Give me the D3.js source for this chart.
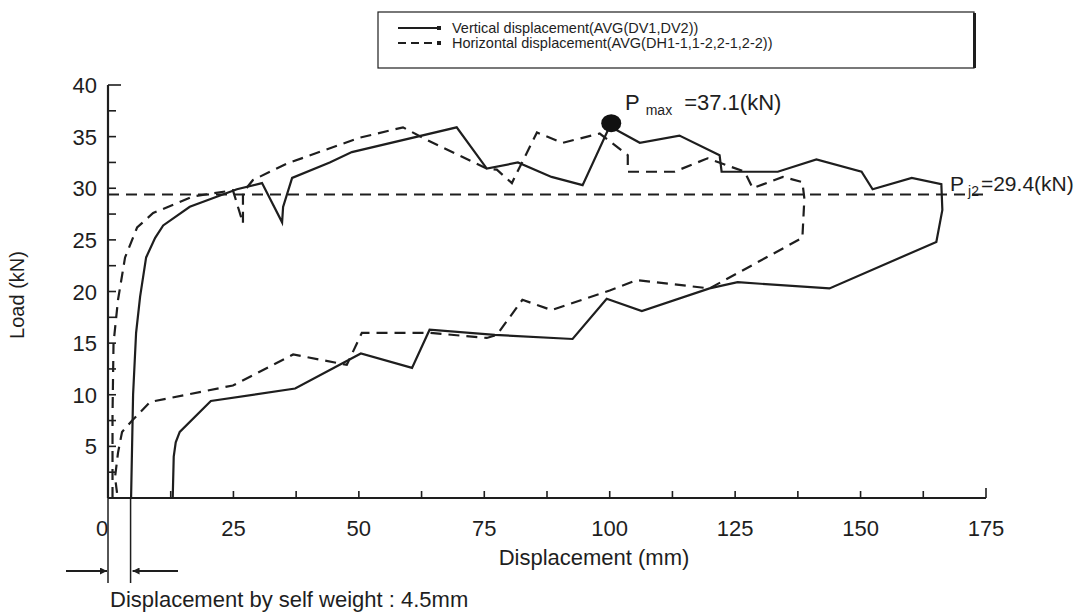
<!DOCTYPE html>
<html>
<head>
<meta charset="utf-8">
<script src="https://cdn.jsdelivr.net/npm/d3@7"></script>
<style>
  html, body { margin: 0; padding: 0; background: #fff; }
  svg { display: block; font-family: "Liberation Sans", Arial, sans-serif; }
</style>
</head>
<body>
<svg id="chart" width="1089" height="616"></svg>
<script>
// ---- data (displacement mm, load kN) ----
const verticalDisp = [
  [4.6,0],[5.0,10],[5.6,16],[6.4,19.5],[7.6,23.3],[9.4,25.2],[11.0,26.4],[16.3,28.2],
  [25.7,29.9],[30.7,30.5],[34.7,26.7],[34.9,28.2],[36.7,31.0],[44.2,32.5],[48.6,33.5],
  [69.5,35.9],[75.5,31.9],[81.7,32.5],[88.4,31.1],[94.6,30.3],[100.0,36.0],[106.0,34.4],
  [113.9,35.1],[121.9,33.2],[122.3,31.6],[133.5,31.6],[141.2,32.8],[150.2,31.6],
  [152.4,29.9],[160.2,31.0],[166.1,30.4],[166.3,27.9],[165.1,24.8],[143.8,20.3],
  [125.5,20.9],[119.9,20.3],[106.4,18.1],[99.4,19.3],[92.6,15.4],[77.1,15.8],
  [64.1,16.3],[60.6,12.6],[50.4,14.0],[37.3,10.6],[20.5,9.4],[14.3,6.4],[13.5,5.4],
  [13.1,4.0],[12.9,0]
];
const horizontalDisp = [
  [0.9,0],[0.9,8],[1.1,15],[2.0,19.2],[3.4,23.3],[5.8,26.2],[9.0,27.6],[16.9,29.2],
  [24.9,29.8],[26.9,26.6],[26.9,29.6],[28.9,30.8],[35.7,32.4],[50.2,34.9],[58.8,35.9],
  [63.5,34.7],[75.5,31.9],[77.5,31.8],[80.5,30.5],[81.5,31.5],[85.5,35.4],[90.6,34.4],
  [98.0,35.3],[103.6,33.2],[103.6,31.6],[112.9,31.6],[119.5,32.9],[126.9,31.6],
  [128.5,30.0],[134.5,31.1],[138.4,30.6],[138.8,29.0],[138.4,25.2],[119.9,20.3],
  [105.4,21.1],[100.0,20.1],[88.4,18.2],[82.6,19.2],[77.5,15.8],[75.5,15.5],[64.1,16.0],
  [50.6,16.0],[47.6,12.9],[36.9,13.9],[24.9,10.9],[8.4,9.3],[5.0,7.6],[2.8,6.4],
  [2.0,4.4],[1.4,2.0],[1.8,0.5]
];
const xTicks = [0,25,50,75,100,125,150,175];
const yTicks = [5,10,15,20,25,30,35,40];
const pmax = {x: 100.3, y: 36.3, label: "37.1(kN)"};
const pj2 = {y: 29.4, label: "29.4(kN)"};
const selfWeight = 4.5;
const legendLabels = ["Vertical displacement(AVG(DV1,DV2))", "Horizontal displacement(AVG(DH1-1,1-2,2-1,2-2))"];

// ---- drawing ----
const svg = d3.select("#chart");
const ink = "#1e1e1e";
const x = d3.scaleLinear().domain([0,175]).range([108, 986]);
const y = d3.scaleLinear().domain([0,40]).range([498, 85]);
const dash = "11,7";

// axes lines
svg.append("line").attr("x1", x(0)).attr("x2", x(175)).attr("y1", y(0)).attr("y2", y(0))
  .attr("stroke", ink).attr("stroke-width", 2.2);
svg.append("line").attr("x1", x(0)).attr("x2", x(0)).attr("y1", y(0)).attr("y2", y(40))
  .attr("stroke", ink).attr("stroke-width", 2.2);

// x ticks (every 12.5, pointing up)
const xt = d3.range(0, 176, 12.5).filter(v => v > 0);
svg.selectAll(".xt").data(xt).enter().append("line")
  .attr("x1", d => x(d)).attr("x2", d => x(d))
  .attr("y1", y(0)).attr("y2", d => y(0) - (d === 175 ? 10 : 7))
  .attr("stroke", ink).attr("stroke-width", 1.6);
// y ticks (every 2.5, pointing right)
const yt = d3.range(2.5, 40.1, 2.5);
svg.selectAll(".yt").data(yt).enter().append("line")
  .attr("x1", x(0)).attr("x2", d => x(0) + (d === 40 ? 13 : 8))
  .attr("y1", d => y(d)).attr("y2", d => y(d))
  .attr("stroke", ink).attr("stroke-width", 1.6);

// tick labels
svg.selectAll(".xl").data(xTicks).enter().append("text")
  .attr("x", d => x(d) - (d === 0 ? 6 : 0)).attr("y", 536)
  .attr("text-anchor", "middle").attr("font-size", 22).attr("fill", ink)
  .text(d => d);
svg.selectAll(".yl").data(yTicks).enter().append("text")
  .attr("x", 97).attr("y", d => y(d) + 8)
  .attr("text-anchor", "end").attr("font-size", 22).attr("fill", ink)
  .text(d => d);

// axis titles
svg.append("text").attr("x", 594).attr("y", 565).attr("text-anchor", "middle")
  .attr("font-size", 22).attr("fill", ink).text("Displacement (mm)");
svg.append("text").attr("transform", "translate(24,295) rotate(-90)")
  .attr("text-anchor", "middle").attr("font-size", 20).attr("fill", ink).text("Load (kN)");

// Pj2 horizontal dashed line
svg.append("line").attr("x1", x(0)).attr("x2", x(175)).attr("y1", y(pj2.y)).attr("y2", y(pj2.y))
  .attr("stroke", ink).attr("stroke-width", 2).attr("stroke-dasharray", dash);

// curves
const line = d3.line().x(d => x(d[0])).y(d => y(d[1]));
svg.append("path").datum(verticalDisp).attr("d", line)
  .attr("fill", "none").attr("stroke", ink).attr("stroke-width", 2.2).attr("stroke-linejoin", "miter");
svg.append("path").datum(horizontalDisp).attr("d", line)
  .attr("fill", "none").attr("stroke", ink).attr("stroke-width", 2.2).attr("stroke-dasharray", dash);

// Pmax marker
svg.append("ellipse").attr("cx", x(pmax.x)).attr("cy", y(pmax.y)).attr("rx", 10).attr("ry", 9)
  .attr("fill", "#111");

// Pmax label
const pt = svg.append("text").attr("x", 625).attr("y", 110).attr("font-size", 22).attr("fill", ink);
pt.append("tspan").text("P");
pt.append("tspan").attr("font-size", 14).attr("dx", 6).attr("dy", 5).text("max");
pt.append("tspan").attr("dx", 12).attr("dy", -5).text("=" + pmax.label);

// Pj2 label
const pj = svg.append("text").attr("x", 950).attr("y", 191).attr("font-size", 21).attr("fill", ink);
pj.append("tspan").text("P");
pj.append("tspan").attr("font-size", 14).attr("dx", 4).attr("dy", 5).text("j2");
pj.append("tspan").attr("dx", 2).attr("dy", -5).text("=" + pj2.label);

// self weight annotation
[0, selfWeight].forEach(v => {
  svg.append("line").attr("x1", x(v)).attr("x2", x(v)).attr("y1", y(0)).attr("y2", 583)
    .attr("stroke", ink).attr("stroke-width", 1.5);
});
const defs = svg.append("defs");
defs.append("marker").attr("id", "ah").attr("viewBox", "0 0 10 10").attr("refX", 10).attr("refY", 5)
  .attr("markerWidth", 7).attr("markerHeight", 7).attr("orient", "auto-start-reverse")
  .attr("markerUnits", "userSpaceOnUse")
  .append("path").attr("d", "M0,0 L10,5 L0,10 Z").attr("fill", ink);
svg.append("line").attr("x1", 66).attr("x2", x(0) - 1).attr("y1", 571).attr("y2", 571)
  .attr("stroke", ink).attr("stroke-width", 1.8).attr("marker-end", "url(#ah)");
svg.append("line").attr("x1", 178).attr("x2", x(selfWeight) + 2).attr("y1", 571).attr("y2", 571)
  .attr("stroke", ink).attr("stroke-width", 1.8).attr("marker-end", "url(#ah)");
svg.append("text").attr("x", 110).attr("y", 607).attr("font-size", 22).attr("fill", ink)
  .text("Displacement by self weight : " + selfWeight + "mm");

// legend
const lg = svg.append("g");
lg.append("rect").attr("x", 378).attr("y", 12).attr("width", 596).attr("height", 56)
  .attr("fill", "#fff").attr("stroke", ink).attr("stroke-width", 1.2);
lg.append("line").attr("x1", 974.5).attr("x2", 974.5).attr("y1", 13).attr("y2", 68)
  .attr("stroke", ink).attr("stroke-width", 3);
legendLabels.forEach((t, i) => {
  const ly = 28 + i * 15;
  lg.append("line").attr("x1", 398).attr("x2", 438).attr("y1", ly).attr("y2", ly)
    .attr("stroke", ink).attr("stroke-width", 2)
    .attr("stroke-dasharray", i === 1 ? "8,5" : null);
  lg.append("rect").attr("x", 437).attr("y", ly - 2).attr("width", 4).attr("height", 4).attr("fill", ink);
  lg.append("text").attr("x", 452).attr("y", ly + 5).attr("font-size", 14.5).attr("fill", ink).text(t);
});
</script>
</body>
</html>
